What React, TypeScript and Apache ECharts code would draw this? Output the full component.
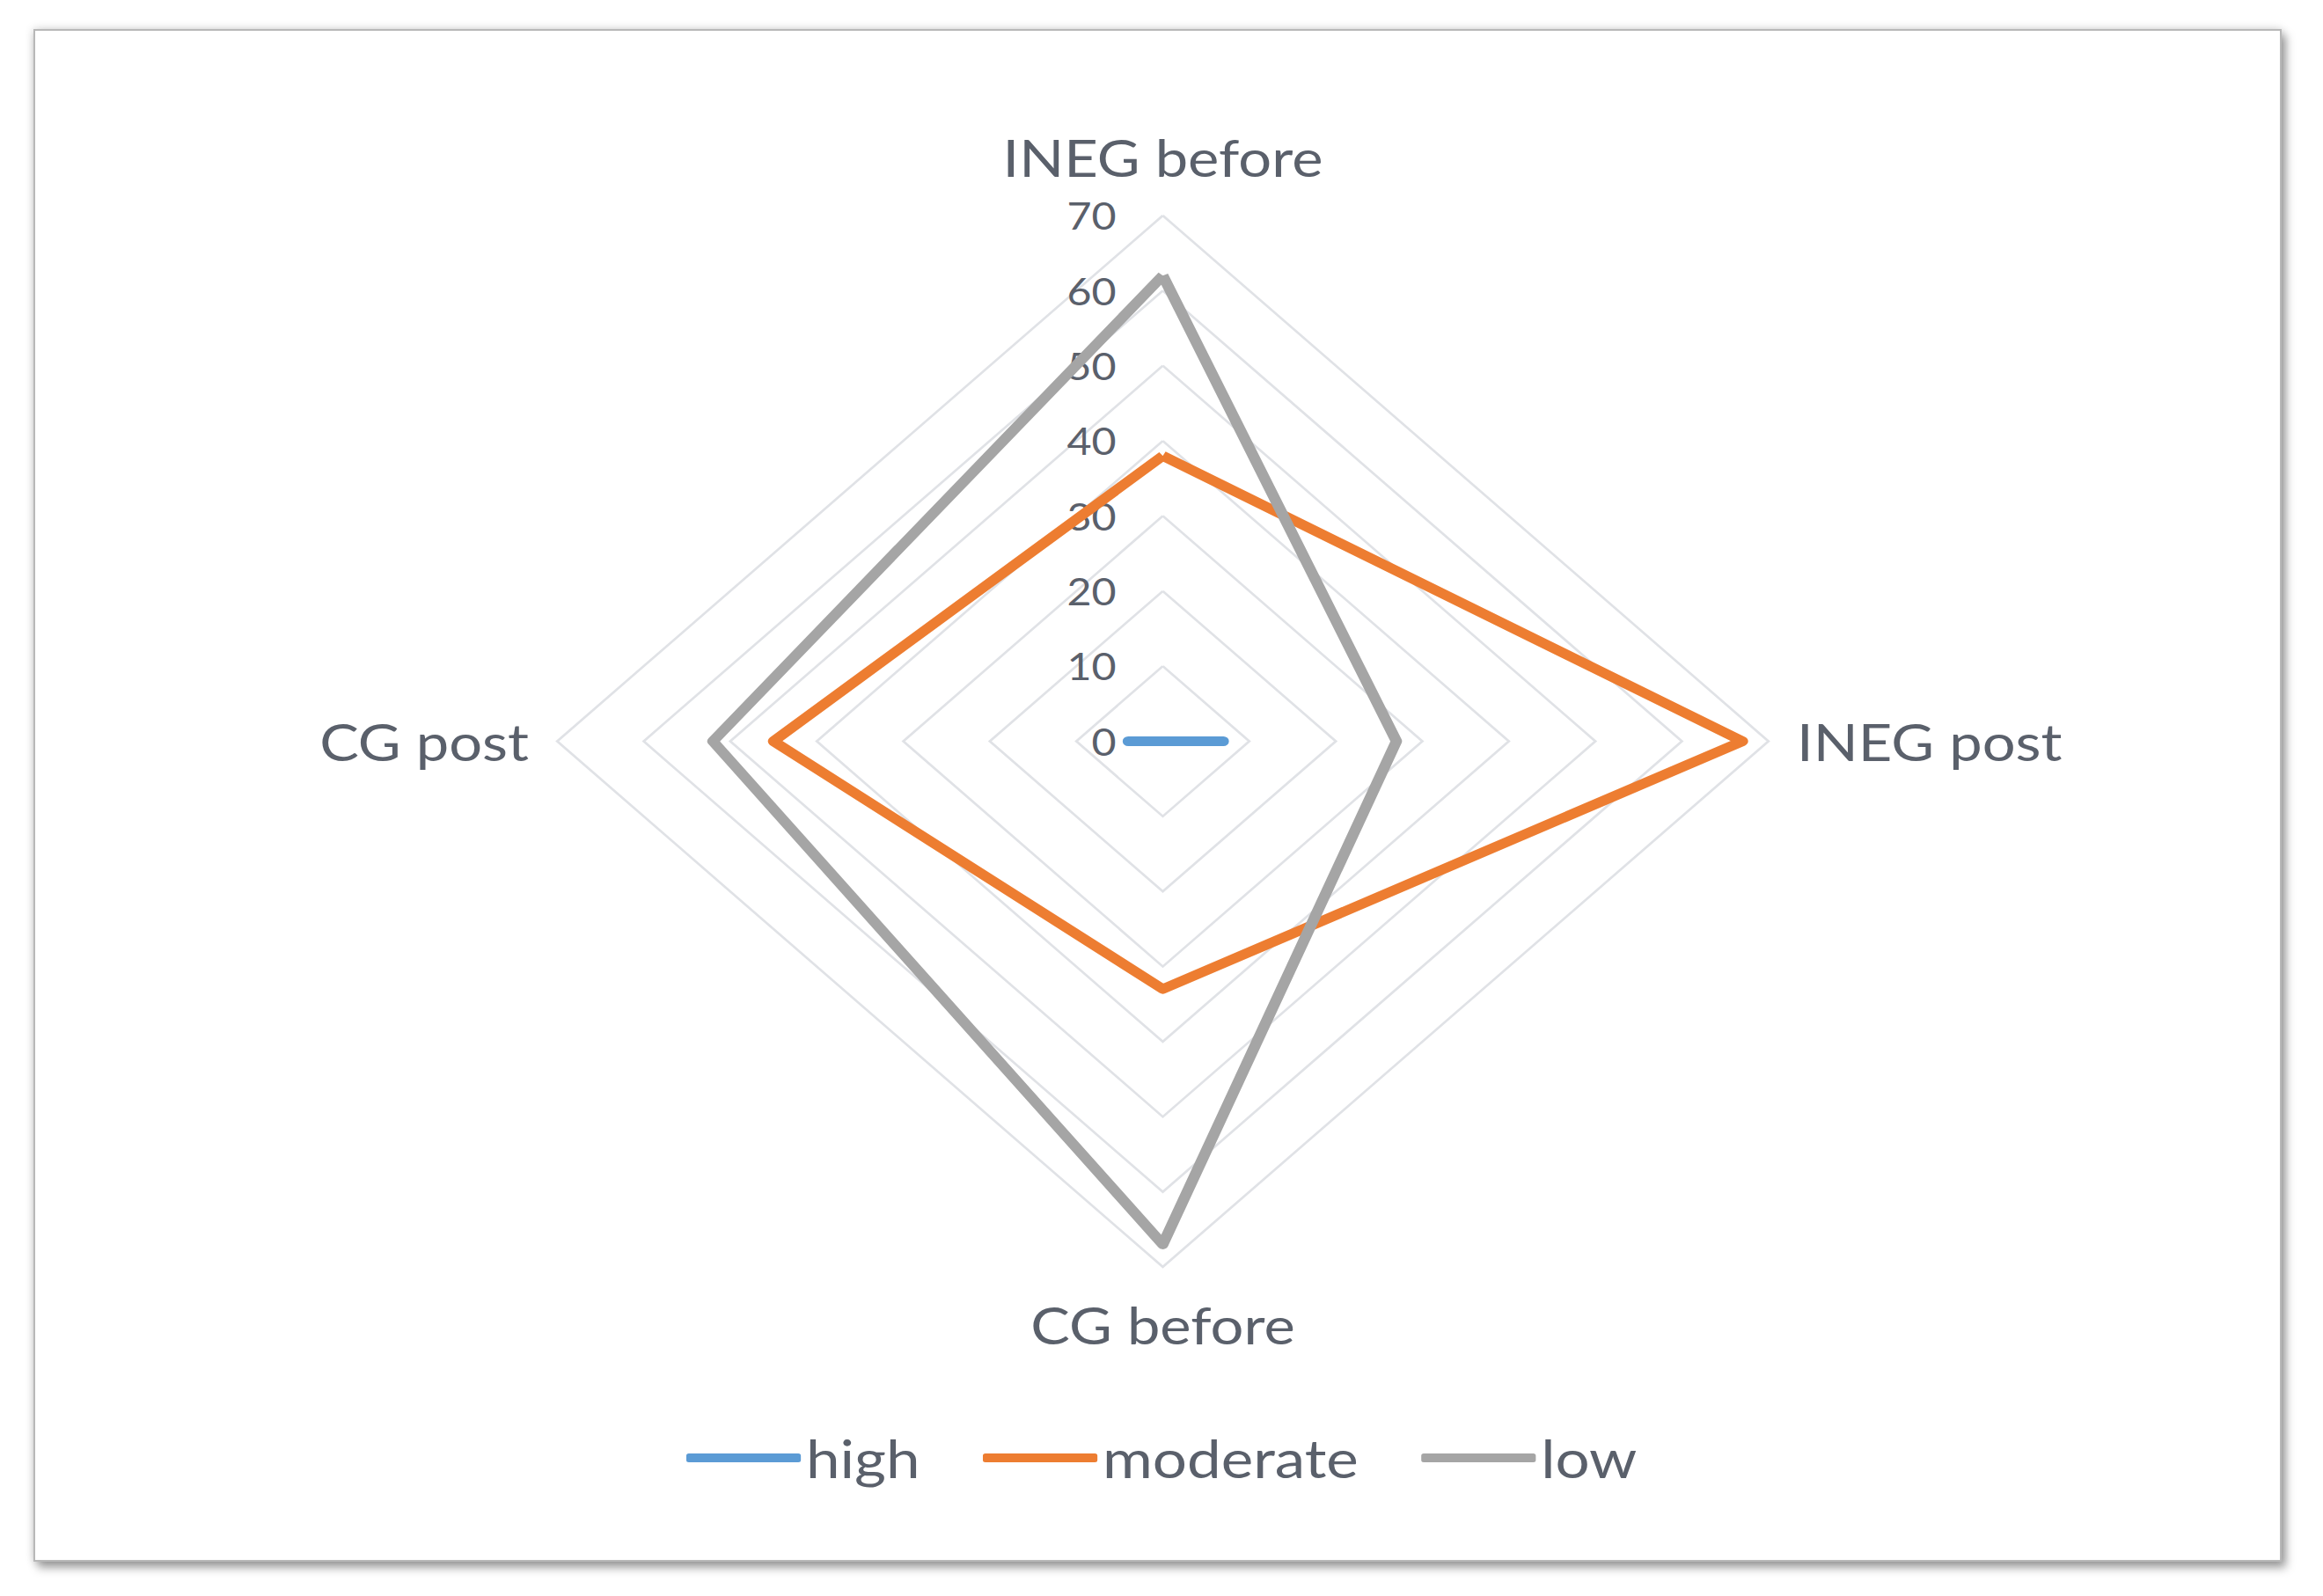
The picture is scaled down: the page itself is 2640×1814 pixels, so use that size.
import React, { useEffect, useRef } from "react";
import * as echarts from "echarts";

// Indicators in ECharts' counter-clockwise order starting at the top
const indicatorNames = ["INEG before", "CG post", "CG before", "INEG post"];
const seriesNames = ["high", "moderate", "low"];
const highValues = [0, 4, 0, 7];
const moderateValues = [38, 45, 33, 67];
const lowValues = [62, 52, 67, 27];
const axisMax = 70;
const splitCount = 7;
const seriesColors = ["#5b9bd5", "#ed7d31", "#a5a5a5"];

const STRETCH = 1.152;
const PAGE_W = 2640;
const PAGE_H = 1814;
const CHART_W = Math.round(PAGE_W / STRETCH);
const TEXT_COLOR = "#5a606b";

export default function App() {
  const ref = useRef<HTMLDivElement>(null);

  useEffect(() => {
    if (!ref.current) return;
    const chart = echarts.init(ref.current, null, { renderer: "svg" });
    const nameGaps = [38, 28, 36, 28];
    const values = [highValues, moderateValues, lowValues];
    chart.setOption({
      animation: false,
      color: seriesColors,
      legend: {
        data: seriesNames,
        left: "center",
        top: 1622,
        icon: "roundRect",
        itemWidth: 113,
        itemHeight: 10,
        itemGap: 62,
        textStyle: {
          color: TEXT_COLOR,
          fontSize: 60,
          fontFamily: "Lato",
        },
      },
      radar: {
        center: [1321.5 / STRETCH, 842.5],
        radius: 597.5,
        startAngle: 90,
        shape: "polygon",
        splitNumber: splitCount,
        nameGap: 32,
        axisName: {
          color: TEXT_COLOR,
          fontSize: 58,
          fontFamily: "Lato",
        },
        indicator: indicatorNames.map((name, i) => {
          const ind: any = { name, min: 0, max: axisMax, nameGap: nameGaps[i] };
          if (i === 0) ind.axisLabel = { show: true };
          return ind;
        }),
        splitLine: { lineStyle: { color: "#e0e2e6", width: 2.5 } },
        splitArea: { show: false },
        axisLine: { show: false },
        axisTick: { show: false },
        axisLabel: {
          show: false,
          color: TEXT_COLOR,
          fontSize: 42,
          fontFamily: "Lato",
          margin: 46,
        },
      },
      series: [
        {
          type: "radar",
          symbol: "none",
          data: seriesNames.map((name, i) => ({
            name,
            value: values[i],
            lineStyle: { color: seriesColors[i], width: 11 },
            itemStyle: { color: seriesColors[i] },
          })),
        },
      ],
    });
    return () => chart.dispose();
  }, []);

  return (
    <div
      style={{
        position: "fixed",
        left: 0,
        top: 0,
        width: PAGE_W,
        height: PAGE_H,
        background: "#ffffff",
        overflow: "hidden",
      }}
    >
      <div
        style={{
          position: "absolute",
          left: 38,
          top: 33,
          width: 2555,
          height: 1742,
          boxSizing: "border-box",
          background: "#ffffff",
          border: "2px solid #b8b8b8",
          boxShadow: "0 0 10px rgba(0,0,0,0.18), 5px 7px 10px rgba(0,0,0,0.35)",
        }}
      />
      <div
        ref={ref}
        style={{
          position: "absolute",
          left: 0,
          top: 0,
          width: CHART_W,
          height: PAGE_H,
          transform: `scaleX(${STRETCH})`,
          transformOrigin: "0 0",
        }}
      />
    </div>
  );
}
